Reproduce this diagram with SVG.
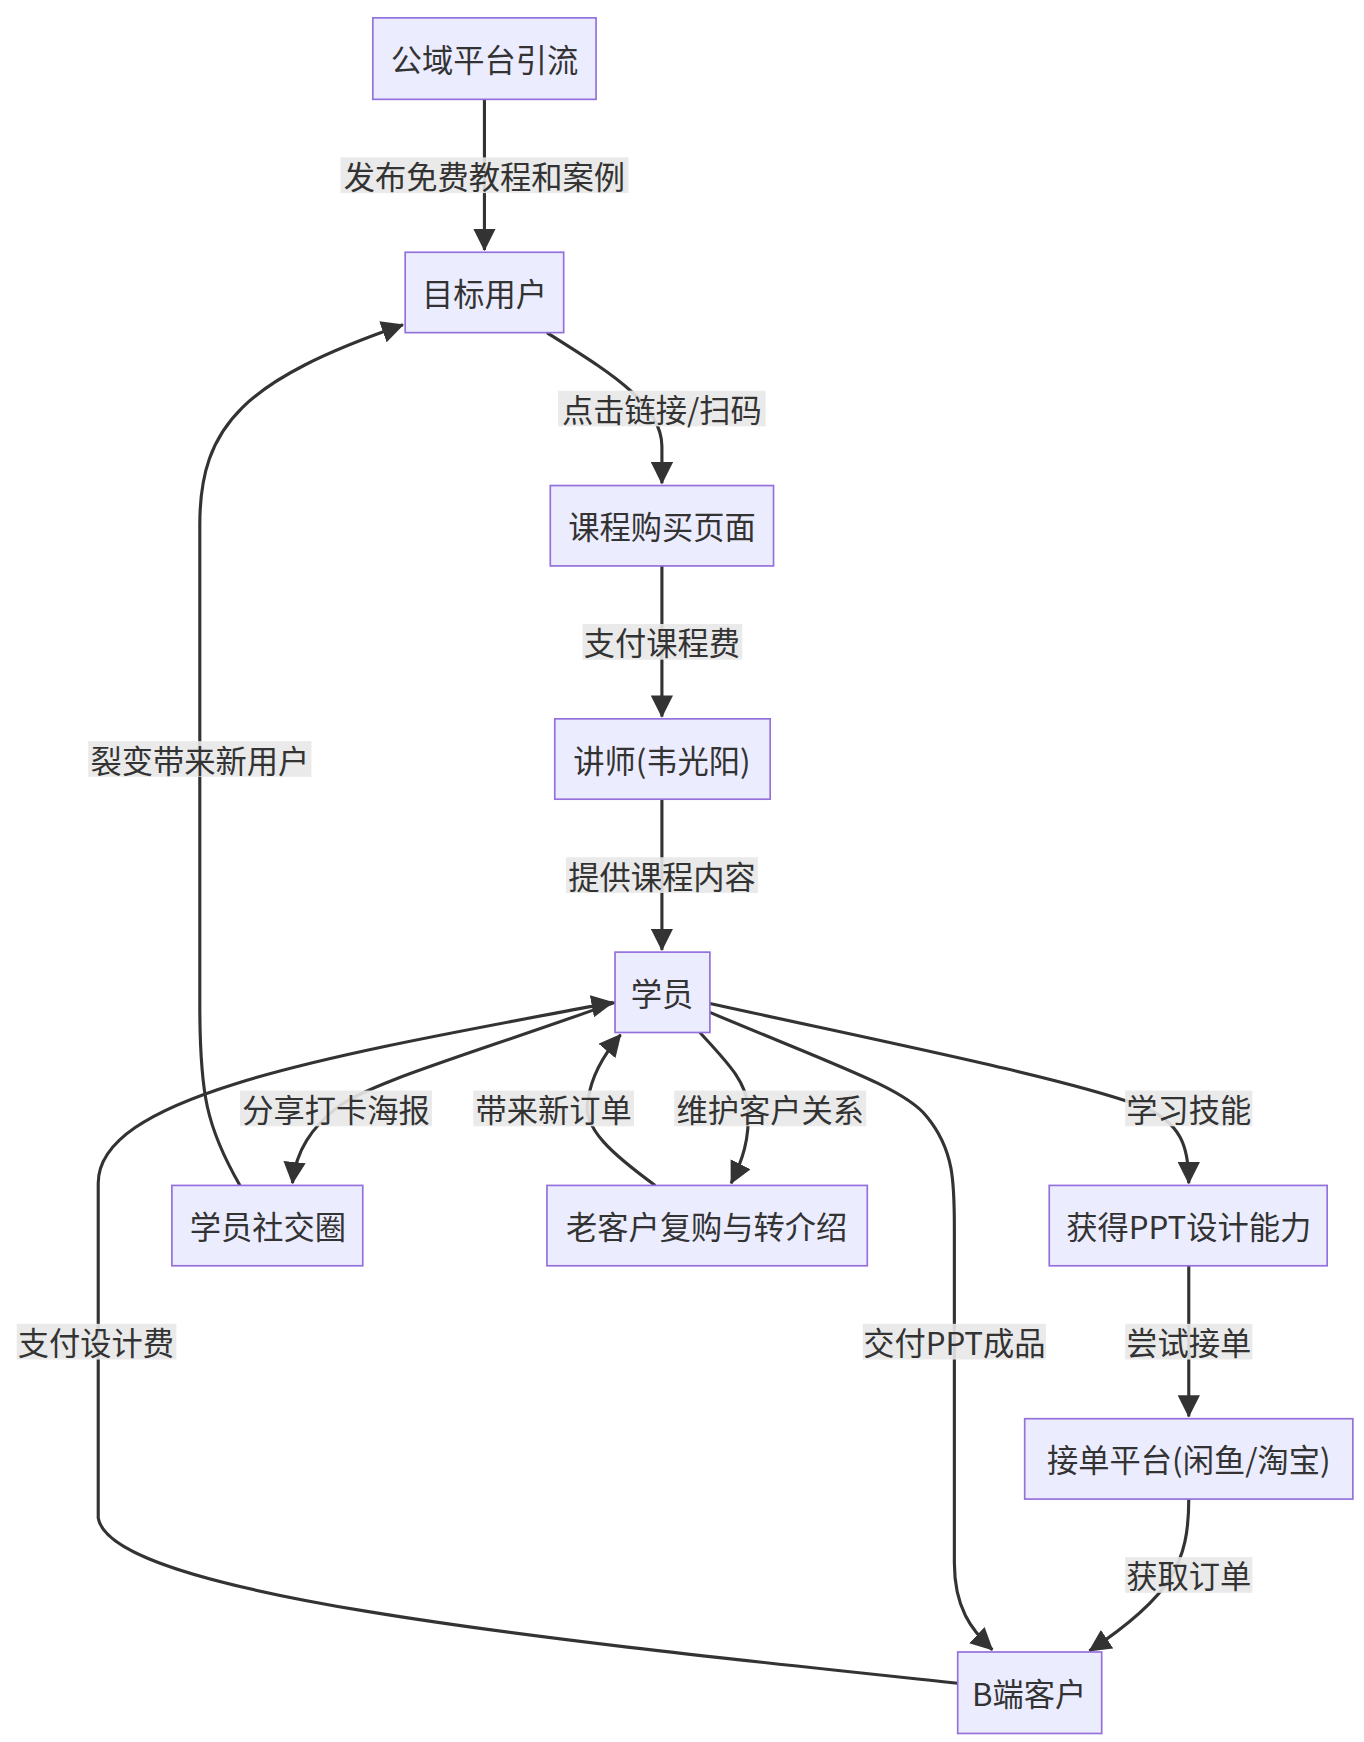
<svg xmlns="http://www.w3.org/2000/svg" width="1364" height="1742" viewBox="0 0 1364 1742">
<style>
.n rect{fill:#ECECFF;stroke:#9370DB;stroke-width:1.5}
text{font-family:"Noto Sans CJK SC","Noto Sans",sans-serif;font-size:28px;fill:#333;text-anchor:middle;dominant-baseline:central}
.e path{fill:none;stroke:#333;stroke-width:2.8;marker-end:url(#a)}
.l rect{fill:#e8e8e8;opacity:.9}
</style>
<defs><marker id="a" markerUnits="userSpaceOnUse" viewBox="0 0 10 10" refX="9.5" refY="5" markerWidth="20" markerHeight="20" orient="auto"><path d="M0,0L10,5L0,10z" fill="#333"/></marker></defs>
<rect width="1364" height="1742" fill="#fff"/>
<g transform="scale(1.11621)">
<g class="e" id="edges">
<path d="M434,89L434,224"/>
<path d="M490,298C540,330 593,360 593,400L593,433"/>
<path d="M593,507L593,642"/>
<path d="M593,716L593,851"/>
<path d="M551,898C420,945 330,970 301,993C280,1010 265,1030 262,1060"/>
<path d="M215,1062C185,1010 179,980 179,900L179,470C179,380 220,340 361,291"/>
<path d="M587,1062C550,1035 520,1010 527,985C530,960 545,940 556,927"/>
<path d="M627,925C650,950 670,970 670,993C672,1020 665,1040 655,1060"/>
<path d="M636,899C800,935 950,965 1020,990C1060,1005 1065,1030 1065,1060"/>
<path d="M1065,1134L1065,1269"/>
<path d="M1065,1343C1065,1400 1050,1430 976,1479"/>
<path d="M636,907C750,955 810,975 830,1000C855,1030 855,1060 855,1100L855,1400C855,1440 870,1460 889,1478"/>
<path d="M858,1508C500,1470 100,1430 88,1360L88,1060C88,980 300,945 549,898"/>
</g>
<g class="l" id="labels">
<rect x="305" y="141" width="258" height="32"/><text x="434" y="157">发布免费教程和案例</text>
<rect x="500" y="350" width="186" height="32"/><text x="593" y="366">点击链接/扫码</text>
<rect x="522" y="559" width="143" height="32"/><text x="593" y="575">支付课程费</text>
<rect x="507" y="768" width="172" height="32"/><text x="593" y="784">提供课程内容</text>
<rect x="215" y="977" width="172" height="32"/><text x="301" y="993">分享打卡海报</text>
<rect x="79" y="664" width="200" height="32"/><text x="179" y="680">裂变带来新用户</text>
<rect x="424" y="977" width="144" height="32"/><text x="496" y="993">带来新订单</text>
<rect x="604" y="977" width="172" height="32"/><text x="690" y="993">维护客户关系</text>
<rect x="1008" y="977" width="114" height="32"/><text x="1065" y="993">学习技能</text>
<rect x="1008" y="1186" width="114" height="32"/><text x="1065" y="1202">尝试接单</text>
<rect x="1008" y="1395" width="114" height="32"/><text x="1065" y="1411">获取订单</text>
<rect x="773" y="1186" width="164" height="32"/><text x="855" y="1202">交付PPT成品</text>
<rect x="15" y="1186" width="143" height="32"/><text x="86" y="1202">支付设计费</text>
</g>
<g class="n" id="n1"><rect x="334" y="16" width="200" height="73"/><text x="434" y="52">公域平台引流</text></g>
<g class="n" id="n2"><rect x="363" y="226" width="142" height="72"/><text x="434" y="262">目标用户</text></g>
<g class="n" id="n3"><rect x="493" y="435" width="200" height="72"/><text x="593" y="471">课程购买页面</text></g>
<g class="n" id="n4"><rect x="497" y="644" width="193" height="72"/><text x="593" y="680">讲师(韦光阳)</text></g>
<g class="n" id="n5"><rect x="551" y="853" width="85" height="72"/><text x="593" y="889">学员</text></g>
<g class="n" id="n6"><rect x="154" y="1062" width="171" height="72"/><text x="240" y="1098">学员社交圈</text></g>
<g class="n" id="n7"><rect x="490" y="1062" width="287" height="72"/><text x="633" y="1098">老客户复购与转介绍</text></g>
<g class="n" id="n8"><rect x="940" y="1062" width="249" height="72"/><text x="1065" y="1098">获得PPT设计能力</text></g>
<g class="n" id="n9"><rect x="918" y="1271" width="294" height="72"/><text x="1065" y="1307">接单平台(闲鱼/淘宝)</text></g>
<g class="n" id="n10"><rect x="858" y="1480" width="129" height="73"/><text x="922" y="1516">B端客户</text></g>
</g>
</svg>
